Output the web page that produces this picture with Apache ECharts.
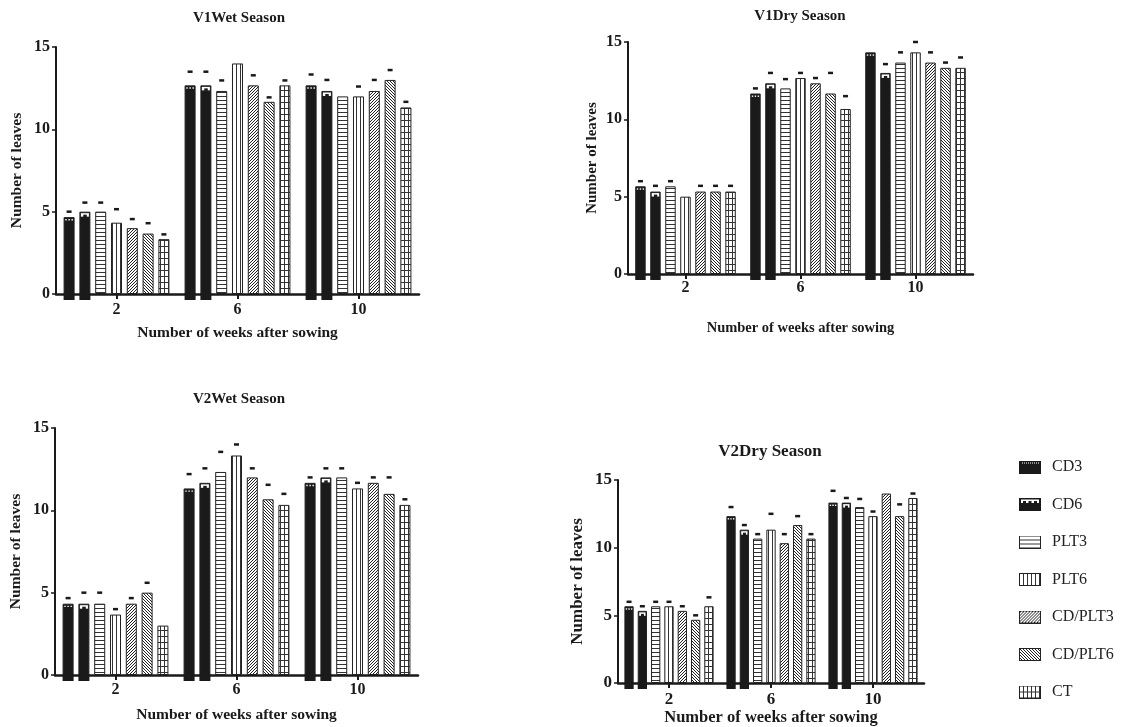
<!DOCTYPE html>
<html>
<head>
<meta charset="utf-8">
<script src="https://cdn.jsdelivr.net/npm/echarts@6/dist/echarts.min.js"></script>
<style>
html,body{margin:0;padding:0;background:#fff;}
#chart{width:1122px;height:727px;}
</style>
</head>
<body>
<div id="chart"></div>
<script>
// ---------------- DATA ----------------
const categories = ['2', '6', '10'];
const treatments = ['CD3', 'CD6', 'PLT3', 'PLT6', 'CD/PLT3', 'CD/PLT6', 'CT'];
const yTickValues = [0, 5, 10, 15];

// V1 Wet season: bar heights per week (order = treatments)
const v1WetWeek2  = [4.67, 5.0, 5.0, 4.33, 4.0, 3.67, 3.33];
const v1WetWeek6  = [12.67, 12.67, 12.33, 14.0, 12.67, 11.67, 12.67];
const v1WetWeek10 = [12.67, 12.33, 12.0, 12.0, 12.33, 13.0, 11.33];
// error-bar tops
const v1WetErrWeek2  = [5.0, 5.55, 5.55, 5.15, 4.55, 4.3, 3.62];
const v1WetErrWeek6  = [13.5, 13.5, 12.97, null, 13.28, 11.94, 12.97];
const v1WetErrWeek10 = [13.33, 13.0, null, 12.6, 13.0, 13.6, 11.67];

// V1 Dry season
const v1DryWeek2  = [5.67, 5.33, 5.67, 5.0, 5.33, 5.33, 5.33];
const v1DryWeek6  = [11.67, 12.33, 12.0, 12.67, 12.33, 11.67, 10.67];
const v1DryWeek10 = [14.33, 13.0, 13.67, 14.33, 13.67, 13.33, 13.33];
const v1DryErrWeek2  = [6.0, 5.7, 6.0, null, 5.7, 5.7, 5.7];
const v1DryErrWeek6  = [12.0, 13.0, 12.6, 13.0, 12.67, 13.0, 11.5];
const v1DryErrWeek10 = [null, 13.57, 14.33, 15.0, 14.33, 13.67, 14.0];

// V2 Wet season
const v2WetWeek2  = [4.33, 4.33, 4.33, 3.67, 4.33, 5.0, 3.0];
const v2WetWeek6  = [11.33, 11.67, 12.33, 13.33, 12.0, 10.67, 10.33];
const v2WetWeek10 = [11.67, 12.0, 12.0, 11.33, 11.67, 11.0, 10.33];
const v2WetErrWeek2  = [4.67, 5.0, 5.0, 4.0, 4.67, 5.6, null];
const v2WetErrWeek6  = [12.2, 12.55, 13.55, 14.0, 12.55, 11.55, 11.0];
const v2WetErrWeek10 = [12.0, 12.55, 12.55, 11.67, 12.0, 12.0, 10.67];

// V2 Dry season
const v2DryWeek2  = [5.67, 5.33, 5.67, 5.67, 5.33, 4.67, 5.67];
const v2DryWeek6  = [12.33, 11.33, 10.67, 11.33, 10.33, 11.67, 10.67];
const v2DryWeek10 = [13.33, 13.33, 13.0, 12.33, 14.0, 12.33, 13.67];
const v2DryErrWeek2  = [6.0, 5.67, 6.0, 6.0, 5.67, 5.0, 6.33];
const v2DryErrWeek6  = [13.0, 11.67, 11.0, 12.5, 11.0, 12.33, 11.0];
const v2DryErrWeek10 = [14.2, 13.67, 13.6, 12.67, null, 13.2, 14.0];

// ---------------- LAYOUT / STYLE ----------------
const FONT = "'Liberation Serif', 'Times New Roman', serif";
const INK = '#1a1a1a';
const BAR_W = 0.091;     // bar width as share of category band
const BAR_GAP = 0.435;   // gap as share of bar width

const panels = [
  { title: 'V1Wet Season', weeks: [v1WetWeek2, v1WetWeek6, v1WetWeek10], errs: [v1WetErrWeek2, v1WetErrWeek6, v1WetErrWeek10],
    grid: { left: 56, top: 47, width: 363, height: 247 }, titleX: 239, titleTop: 11,
    fTitle: 15, fTick: 16, fName: 15.5, fXName: 15.5, tickMargin: 8, xNameGap: 31, yNameGap: 31 },
  { title: 'V1Dry Season', weeks: [v1DryWeek2, v1DryWeek6, v1DryWeek10], errs: [v1DryErrWeek2, v1DryErrWeek6, v1DryErrWeek10],
    grid: { left: 628, top: 42, width: 345, height: 232 }, titleX: 800, titleTop: 9,
    fTitle: 15, fTick: 16, fName: 15, fXName: 14.5, tickMargin: 6, xNameGap: 47, yNameGap: 28 },
  { title: 'V2Wet Season', weeks: [v2WetWeek2, v2WetWeek6, v2WetWeek10], errs: [v2WetErrWeek2, v2WetErrWeek6, v2WetErrWeek10],
    grid: { left: 55, top: 428, width: 363, height: 247 }, titleX: 239, titleTop: 392,
    fTitle: 15, fTick: 16, fName: 15.5, fXName: 15.5, tickMargin: 7, xNameGap: 32, yNameGap: 31 },
  { title: 'V2Dry Season', weeks: [v2DryWeek2, v2DryWeek6, v2DryWeek10], errs: [v2DryErrWeek2, v2DryErrWeek6, v2DryErrWeek10],
    grid: { left: 618, top: 480, width: 306, height: 205 }, titleX: 770, titleTop: 443,
    fTitle: 17, fTick: 17, fName: 17, fXName: 16.5, tickMargin: 8, xNameGap: 26, yNameGap: 32 }
];

const patternKinds = ['cd3', 'cd6', 'h', 'v', 'd1', 'd2', 'grid'];

function makePattern(kind) {
  const c = document.createElement('canvas');
  const diag = kind === 'd1' || kind === 'd2';
  const w = diag ? 3 : 4, h = kind === 'grid' ? 6 : (diag ? 3 : 4);
  c.width = w; c.height = h;
  const g = c.getContext('2d');
  g.fillStyle = '#fff'; g.fillRect(0, 0, w, h);
  g.fillStyle = '#333'; g.strokeStyle = '#222'; g.lineWidth = 1;
  if (kind === 'h') g.fillRect(0, 0, w, 1);
  if (kind === 'v') g.fillRect(0, 0, 1, h);
  if (kind === 'grid') { g.fillRect(0, 0, w, 1); g.fillRect(0, 0, 1, h); }
  if (kind === 'd1') {
    g.beginPath();
    g.moveTo(-1, 4); g.lineTo(4, -1);
    g.moveTo(-1, 1); g.lineTo(1, -1);
    g.moveTo(2, 4); g.lineTo(4, 2);
    g.stroke();
  }
  if (kind === 'd2') {
    g.beginPath();
    g.moveTo(-1, -1); g.lineTo(4, 4);
    g.moveTo(2, -1); g.lineTo(4, 1);
    g.moveTo(-1, 2); g.lineTo(1, 4);
    g.stroke();
  }
  return c;
}

function makeIcon(kind) {
  const c = document.createElement('canvas');
  c.width = 22; c.height = 13;
  const g = c.getContext('2d');
  if (kind === 'cd3' || kind === 'cd6') {
    g.fillStyle = INK; g.fillRect(0, 0, 22, 13);
    g.fillStyle = '#fff';
    if (kind === 'cd3') {
      for (let x = 3; x < 20; x += 2) g.fillRect(x, 2, 1, 1);
    } else {
      g.fillRect(2, 1.5, 18, 3.5);
      g.fillStyle = INK;
      g.fillRect(4, 3, 3, 2.5); g.fillRect(9.5, 3, 3, 2.5); g.fillRect(15, 3, 3, 2.5);
    }
  } else {
    g.fillStyle = g.createPattern(makePattern(kind), 'repeat');
    g.fillRect(0, 0, 22, 13);
    g.strokeStyle = '#222'; g.lineWidth = 1;
    g.strokeRect(0.5, 0.5, 21, 12);
  }
  return c.toDataURL();
}

function barColor(kind) {
  if (kind === 'cd3' || kind === 'cd6') return INK;
  return { image: makePattern(kind), repeat: 'repeat' };
}

const chart = echarts.init(document.getElementById('chart'), null, { renderer: 'canvas' });

const titles = [], grids = [], xAxes = [], yAxes = [], series = [];

panels.forEach((p, pi) => {
  titles.push({
    text: p.title, left: p.titleX, top: p.titleTop, textAlign: 'center', padding: 0,
    textStyle: { fontFamily: FONT, fontWeight: 'bold', fontSize: p.fTitle, color: INK }
  });
  grids.push(Object.assign({ containLabel: false }, p.grid));
  xAxes.push({
    type: 'category', gridIndex: pi, data: categories, boundaryGap: true,
    name: 'Number of weeks after sowing', nameLocation: 'middle', nameGap: p.xNameGap,
    nameTextStyle: { fontFamily: FONT, fontWeight: 'bold', fontSize: p.fXName, color: INK },
    axisLine: { show: true, lineStyle: { color: INK, width: 2.5 } },
    axisTick: { show: true, alignWithLabel: true, length: 5, lineStyle: { color: INK, width: 2 } },
    axisLabel: { fontFamily: FONT, fontWeight: 'bold', fontSize: p.fTick, color: INK, margin: p.tickMargin },
    splitLine: { show: false }
  });
  yAxes.push({
    type: 'value', gridIndex: pi,
    min: yTickValues[0], max: yTickValues[yTickValues.length - 1], interval: yTickValues[1] - yTickValues[0],
    name: 'Number of leaves', nameLocation: 'middle', nameGap: p.yNameGap, nameRotate: 90,
    nameTextStyle: { fontFamily: FONT, fontWeight: 'bold', fontSize: p.fName, color: INK },
    axisLine: { show: true, lineStyle: { color: INK, width: 2 } },
    axisTick: { show: true, length: 4, lineStyle: { color: INK, width: 1.5 } },
    axisLabel: { fontFamily: FONT, fontWeight: 'bold', fontSize: p.fTick, color: INK, margin: 6 },
    splitLine: { show: false }
  });
  treatments.forEach((name, ti) => {
    series.push({
      type: 'bar', name: name, xAxisIndex: pi, yAxisIndex: pi,
      data: p.weeks.map(w => w[ti]),
      barWidth: (BAR_W * 100) + '%', barGap: (BAR_GAP * 100) + '%',
      itemStyle: { color: barColor(patternKinds[ti]), borderColor: '#222', borderWidth: 1 },
      emphasis: { disabled: true }, silent: true, z: 2
    });
  });
  const items = [];
  p.weeks.forEach((w, ci) => {
    w.forEach((v, ti) => { items.push([ci, ti, v, p.errs[ci][ti]]); });
  });
  series.push({
    type: 'custom', name: 'deco' + pi, xAxisIndex: pi, yAxisIndex: pi, z: 5, silent: true,
    data: items, encode: { x: 0, y: 2 },
    renderItem: function (params, api) {
      const cat = api.value(0), t = api.value(1), v = api.value(2), cap = api.value(3);
      const band = api.size([1, 0])[0];
      const bw = band * BAR_W, gap = bw * BAR_GAP;
      const base = api.coord([cat, 0]);
      const cx = base[0] + (t - 3) * (bw + gap);
      const y0 = base[1];
      const yTop = api.coord([cat, v])[1];
      const ch = [];
      if (t === 0 || t === 1) {
        ch.push({ type: 'rect', shape: { x: cx - bw / 2, y: y0 - 1, width: bw, height: 7 }, style: { fill: INK } });
      }
      if (t === 0) {
        for (let k = -1; k <= 1; k++) {
          ch.push({ type: 'rect', shape: { x: cx + k * bw * 0.28 - 0.7, y: yTop + 2, width: 1.4, height: 1.4 }, style: { fill: '#fff' } });
        }
      }
      if (t === 1) {
        ch.push({ type: 'rect', shape: { x: cx - bw / 2 + 1.5, y: yTop + 1.5, width: bw - 3, height: 3.5 }, style: { fill: '#fff' } });
        ch.push({ type: 'rect', shape: { x: cx - bw * 0.15, y: yTop + 3, width: bw * 0.32, height: 2.5 }, style: { fill: INK } });
      }
      if (cap != null && !isNaN(cap)) {
        const yc = api.coord([cat, cap])[1];
        ch.push({ type: 'rect', shape: { x: cx - 2.5, y: yc - 1.25, width: 5, height: 2.5 }, style: { fill: INK } });
      }
      return { type: 'group', children: ch };
    }
  });
});

const option = {
  animation: false,
  backgroundColor: '#fff',
  title: titles,
  legend: {
    orient: 'vertical', left: 1019, top: 459, padding: 0, itemWidth: 22, itemHeight: 13, itemGap: 21.5,
    selectedMode: false,
    textStyle: { fontFamily: FONT, fontSize: 16, color: '#222', padding: [0, 0, 0, 6] },
    data: treatments.map((n, i) => ({ name: n, icon: 'image://' + makeIcon(patternKinds[i]) }))
  },
  grid: grids,
  xAxis: xAxes,
  yAxis: yAxes,
  series: series
};
chart.setOption(option);
</script>
</body>
</html>
